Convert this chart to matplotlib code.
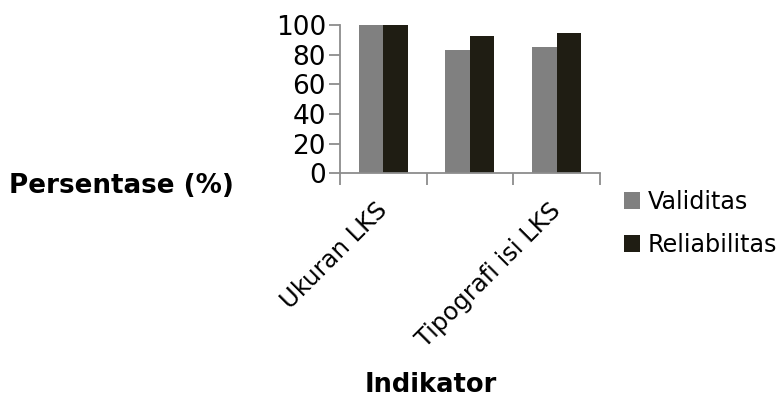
import numpy as np
import matplotlib.pyplot as plt
from matplotlib.ticker import FixedLocator

categories = ["Ukuran LKS", "", "Tipografi isi LKS"]
validitas = [100, 83.3, 85.3]
reliabilitas = [100, 92.8, 94.8]
yticks = [0, 20, 40, 60, 80, 100]

fig = plt.figure(figsize=(7.81, 3.99), dpi=100)
ax = fig.add_axes([0.4353, 0.5657, 0.3329, 0.3716])

x = np.arange(len(categories))
w = 0.283
ax.bar(x - w / 2, validitas, w, color="#808080", label="Validitas")
ax.bar(x + w / 2, reliabilitas, w, color="#1f1d13", label="Reliabilitas")

ax.set_xlim(-0.5, len(categories) - 0.5)
ax.set_ylim(0, 100)
ax.set_yticks(yticks)
ax.tick_params(axis="y", labelsize=19, length=8, color="#8c8c8c", pad=2)

# category boundaries carry the tick marks, labels sit at the centres
ax.set_xticks(x)
ax.set_xticklabels(categories, rotation=45, ha="right", va="center",
                   rotation_mode="anchor", fontsize=17.5)
ax.tick_params(axis="x", which="major", length=0, pad=24)
ax.xaxis.set_minor_locator(FixedLocator(np.arange(-0.5, len(categories), 1.0)))
ax.tick_params(axis="x", which="minor", length=8.5, color="#8c8c8c", width=1.3)
ax.tick_params(axis="y", width=1.3)

for side in ["top", "right"]:
    ax.spines[side].set_visible(False)
for side in ["left", "bottom"]:
    ax.spines[side].set_color("#8c8c8c")
    ax.spines[side].set_linewidth(1.3)

fig.text(0.012, 0.535, "Persentase (%)", fontsize=18.8, fontweight="bold", va="center", ha="left")
fig.text(0.552, 0.035, "Indikator", fontsize=18.5, fontweight="bold", va="center", ha="center")

fig.legend(loc="center left", bbox_to_anchor=(0.787, 0.44), frameon=False, fontsize=17.2,
           handlelength=0.68, handleheight=0.68, handletextpad=0.3, labelspacing=0.79, borderaxespad=0)

fig.savefig("out.png", dpi=100)
